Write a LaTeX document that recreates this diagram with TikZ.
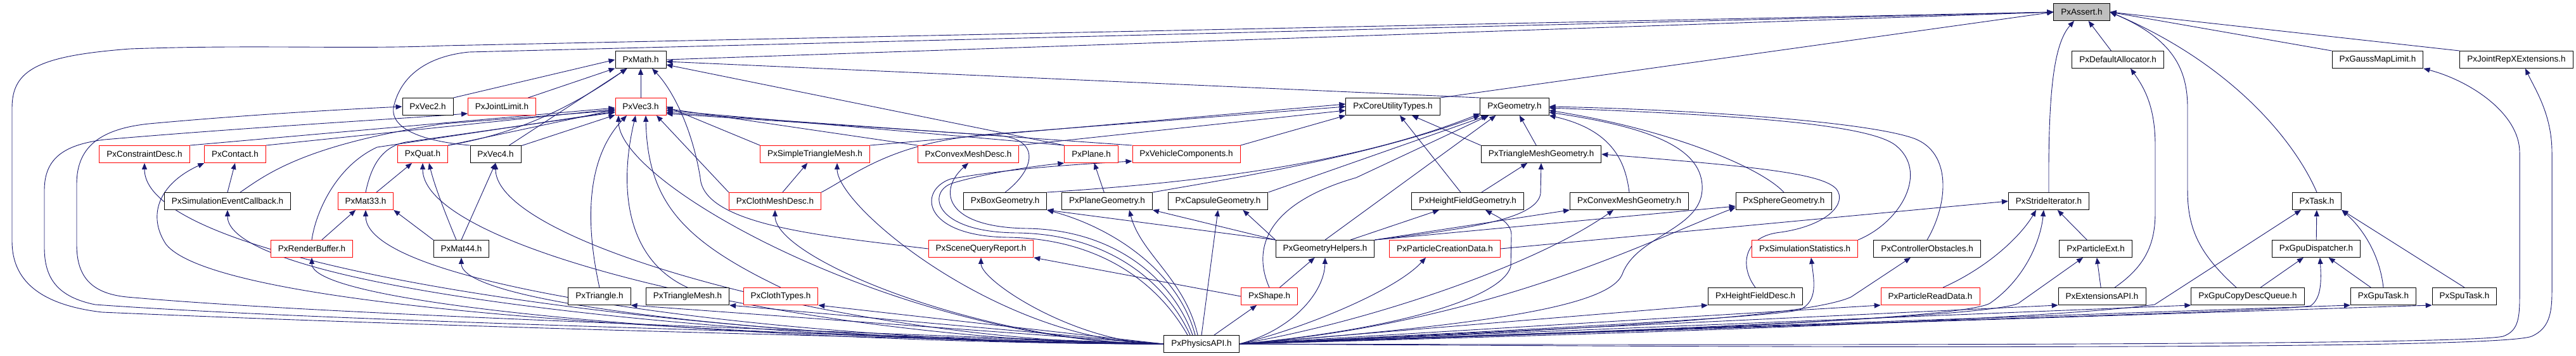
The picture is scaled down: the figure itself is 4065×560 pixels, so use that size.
\documentclass[tikz,border=0pt]{standalone}
\usepackage{fontspec}
\newfontfamily\dotfont{Liberation Sans}
\usetikzlibrary{arrows.meta,backgrounds}
\definecolor{edgeblue}{HTML}{191970}
\definecolor{redline}{HTML}{FF0000}
\definecolor{rootgray}{HTML}{BFBFBF}
\tikzset{
  file/.style={draw=black, fill=white, line width=0.9pt, minimum height=27pt, inner xsep=11.5pt, inner ysep=0pt, font=\dotfont\fontsize{13.5}{16}\selectfont},
  redfile/.style={file, draw=redline},
  rootfile/.style={file, fill=rootgray},
  dep/.style={draw=edgeblue, line width=0.9pt, -{Triangle[length=10pt,width=8pt]}}}

\begin{document}
\begin{tikzpicture}[x=1pt,y=-1pt]
\useasboundingbox (0,0) rectangle (4065,560);
\node[rootfile] (assert) at (3285,19) {PxAssert.h};
\node[file] (math) at (1011,94) {PxMath.h};
\node[file] (defalloc) at (3342,94) {PxDefaultAllocator.h};
\node[file] (gaussmap) at (3752,94) {PxGaussMapLimit.h};
\node[file] (jointrepx) at (3971,94) {PxJointRepXExtensions.h};
\node[file] (vectwo) at (675,168) {PxVec2.h};
\node[redfile] (jointlimit) at (792,168) {PxJointLimit.h};
\node[redfile] (vecthree) at (1011,168) {PxVec3.h};
\node[file] (coreutil) at (2198,168) {PxCoreUtilityTypes.h};
\node[file] (geometry) at (2390,168) {PxGeometry.h};
\node[redfile] (constraint) at (228,243) {PxConstraintDesc.h};
\node[redfile] (contact) at (371,243) {PxContact.h};
\node[redfile] (quat) at (667,243) {PxQuat.h};
\node[file] (vecfour) at (782,243) {PxVec4.h};
\node[redfile] (simplemesh) at (1286,243) {PxSimpleTriangleMesh.h};
\node[redfile] (convexdesc) at (1528,243) {PxConvexMeshDesc.h};
\node[redfile] (plane) at (1722,243) {PxPlane.h};
\node[redfile] (vehicle) at (1872,243) {PxVehicleComponents.h};
\node[file] (trimeshgeom) at (2432,243) {PxTriangleMeshGeometry.h};
\node[file] (simcallback) at (359,317) {PxSimulationEventCallback.h};
\node[redfile] (matthree) at (577,317) {PxMat33.h};
\node[redfile] (clothdesc) at (1223,317) {PxClothMeshDesc.h};
\node[file] (boxgeom) at (1586,317) {PxBoxGeometry.h};
\node[file] (planegeom) at (1747,317) {PxPlaneGeometry.h};
\node[file] (capsulegeom) at (1922,317) {PxCapsuleGeometry.h};
\node[file] (hfgeom) at (2316,317) {PxHeightFieldGeometry.h};
\node[file] (convexgeom) at (2571,317) {PxConvexMeshGeometry.h};
\node[file] (spheregeom) at (2815,317) {PxSphereGeometry.h};
\node[file] (strideiter) at (3233,317) {PxStrideIterator.h};
\node[file] (task) at (3656,317) {PxTask.h};
\node[redfile] (renderbuf) at (492,392) {PxRenderBuffer.h};
\node[file] (matfour) at (728,392) {PxMat44.h};
\node[redfile] (sqreport) at (1548,392) {PxSceneQueryReport.h};
\node[file] (geomhelpers) at (2091,392) {PxGeometryHelpers.h};
\node[redfile] (partcreate) at (2280,392) {PxParticleCreationData.h};
\node[redfile] (simstats) at (2848,392) {PxSimulationStatistics.h};
\node[file] (ctrlobst) at (3041,392) {PxControllerObstacles.h};
\node[file] (partext) at (3307,392) {PxParticleExt.h};
\node[file] (gpudisp) at (3655,392) {PxGpuDispatcher.h};
\node[file] (triangle) at (946,467) {PxTriangle.h};
\node[file] (trimesh) at (1085,467) {PxTriangleMesh.h};
\node[redfile] (clothtypes) at (1232,467) {PxClothTypes.h};
\node[redfile] (shape) at (2003,467) {PxShape.h};
\node[file] (hfdesc) at (2770,467) {PxHeightFieldDesc.h};
\node[redfile] (partread) at (3046,467) {PxParticleReadData.h};
\node[file] (extapi) at (3317,467) {PxExtensionsAPI.h};
\node[file] (gpucopy) at (3547,467) {PxGpuCopyDescQueue.h};
\node[file] (gputask) at (3761,467) {PxGpuTask.h};
\node[file] (sputask) at (3889,467) {PxSpuTask.h};
\node[file] (api) at (1896,542) {PxPhysicsAPI.h};

\begin{pgfonlayer}{background}
\draw[dep] (math.east) -- (assert.west); \draw[dep] (coreutil.north east) -- (assert.west); \draw[dep] (defalloc) -- (assert);
\draw[dep] (gaussmap.north west) -- (assert.east); \draw[dep] (jointrepx.north west) -- (assert.east);
\draw[dep] (strideiter.north) .. controls (3232,150) and (3240,70) .. ([xshift=-12pt]assert.south);
\draw[dep] (task.north) .. controls (3620,220) and (3520,100) .. (assert.east);
\draw[dep] ([xshift=-18pt]gpucopy.north) .. controls (3470,400) and (3452,360) .. (3452,300) -- (3452,170) .. controls (3452,110) and (3430,62) .. (assert.east);
\draw[dep] (vecfour.north west) .. controls (660,222) and (612,200) .. (622,165) .. controls (635,115) and (680,88) .. (740,82) -- (assert.west);
\draw[dep] (api.west) .. controls (1300,530) and (700,515) .. (161,492) .. controls (60,480) and (19,440) .. (19,380) -- (19,170) .. controls (19,110) and (60,88) .. (205,77) .. controls (400,70) and (560,78) .. (700,72) -- (assert.west);

\draw[dep] (vectwo.north east) -- (math.west); \draw[dep] (jointlimit) -- (math); \draw[dep] (vecthree) -- (math); \draw[dep] (vecfour) -- (math);
\draw[dep] (quat.north east) .. controls (790,215) and (880,185) .. ([xshift=-22pt]math.south);
\draw[dep] (geometry.north west) -- ([yshift=-3pt]math.east); \draw[dep] (plane.north west) -- ([yshift=-8pt]math.east);
\draw[dep] (sqreport.west) .. controls (1300,372) and (1110,355) .. (1105,280) .. controls (1092,200) and (1060,140) .. ([xshift=18pt]math.south);

\draw[dep] (vecfour) -- (vecthree); \draw[dep] (quat.north east) -- ([yshift=-5pt]vecthree.west);
\draw[dep] (constraint.north east) -- ([yshift=-2pt]vecthree.west); \draw[dep] (contact.north east) -- ([yshift=-4pt]vecthree.west);
\draw[dep] (matthree.north) .. controls (585,265) and (600,232) .. (640,224) -- ([yshift=-9pt]vecthree.west);
\draw[dep] ([xshift=20pt]simcallback.north) .. controls (420,275) and (480,228) .. (700,195) -- ([yshift=-6pt]vecthree.west);
\draw[dep] (renderbuf.north) .. controls (498,335) and (530,262) .. (595,232) -- ([yshift=-8pt]vecthree.west);
\draw[dep] (triangle.north) .. controls (930,380) and (915,260) .. ([xshift=-22pt]vecthree.south);
\draw[dep] (trimesh.north) .. controls (990,410) and (975,300) .. ([xshift=-8pt]vecthree.south);
\draw[dep] (clothtypes.north) .. controls (1080,380) and (1022,320) .. ([xshift=8pt]vecthree.south);
\draw[dep] (clothdesc.north west) -- ([xshift=25pt]vecthree.south);
\draw[dep] (simplemesh.north west) -- (vecthree.east); \draw[dep] (convexdesc.north west) -- ([yshift=-3pt]vecthree.east);
\draw[dep] (plane.north west) -- ([yshift=-6pt]vecthree.east); \draw[dep] (vehicle.north west) -- ([yshift=-9pt]vecthree.east);
\draw[dep] (boxgeom.north) .. controls (1630,270) and (1645,222) .. (1580,214) -- ([yshift=-11pt]vecthree.east);

\draw[dep] (simplemesh.north east) -- ([yshift=4pt]coreutil.west);
\draw[dep] (clothdesc.north east) .. controls (1350,275) and (1410,220) .. (1583,210) -- (coreutil.west);
\draw[dep] (convexdesc.north east) -- ([yshift=-6pt]coreutil.west); \draw[dep] (vehicle.north east) -- (coreutil.south west);
\draw[dep] (trimeshgeom.north west) -- ([xshift=30pt]coreutil.south); \draw[dep] (hfgeom) -- (coreutil);

\draw[dep] (boxgeom.north east) .. controls (1850,290) and (2120,265) .. ([yshift=3pt]geometry.south west);
\draw[dep] (planegeom.north east) .. controls (1920,285) and (2150,250) .. (geometry.south west);
\draw[dep] (capsulegeom.north east) -- ([xshift=12pt]geometry.south west);
\draw[dep] (trimeshgeom) -- (geometry);
\draw[dep] (convexgeom.north) .. controls (2565,255) and (2545,205) .. (geometry.south east);
\draw[dep] (spheregeom.north) .. controls (2780,265) and (2640,205) .. ([yshift=-6pt]geometry.east);
\draw[dep] (simstats.north east) .. controls (3000,350) and (3045,270) .. (2990,228) .. controls (2940,192) and (2700,180) .. ([yshift=-2pt]geometry.east);
\draw[dep] (ctrlobst.north) .. controls (3075,320) and (3080,240) .. (3020,218) .. controls (2940,190) and (2650,172) .. (geometry.east);
\draw[dep] (shape.north) .. controls (1975,390) and (2000,320) .. (2140,280) -- ([xshift=14pt]geometry.south west);
\draw[dep] (geomhelpers.north) -- ([xshift=25pt]geometry.south west);
\draw[dep] (api.east) .. controls (2350,512) and (2540,482) .. (2560,432) .. controls (2582,372) and (2682,362) .. (2686,300) .. controls (2690,232) and (2600,200) .. ([yshift=-9pt]geometry.east);

\draw[dep] (hfgeom) -- (trimeshgeom);
\draw[dep] (geomhelpers.north east) .. controls (2300,362) and (2425,348) .. (2431,305) -- (trimeshgeom.south);
\draw[dep] (hfdesc.north) .. controls (2745,420) and (2750,372) .. (2810,366) .. controls (2885,355) and (2915,320) .. (2898,298) .. controls (2875,272) and (2760,262) .. (trimeshgeom.east);

\draw[dep] (planegeom) -- (plane); \draw[dep] (clothdesc) -- (simplemesh); \draw[dep] (simcallback.north) -- (contact.south);
\draw[dep] (matthree) -- (quat); \draw[dep] ([xshift=-8pt]matfour.north) .. controls (700,330) and (685,290) .. ([xshift=10pt]quat.south);
\draw[dep] (renderbuf) -- (matthree); \draw[dep] (matfour.north west) -- (matthree.south east); \draw[dep] (matfour.north) -- (vecfour.south);

\draw[dep] (shape.west) -- (sqreport.south east); \draw[dep] (shape) -- (geomhelpers);
\draw[dep] (geomhelpers.north west) -- (boxgeom.south east); \draw[dep] (geomhelpers.north west) -- (planegeom.south east);
\draw[dep] (geomhelpers.north west) -- ([xshift=-40pt]capsulegeom.south east);
\draw[dep] ([xshift=40pt]geomhelpers.north) -- ([xshift=-45pt]hfgeom.south);
\draw[dep] (geomhelpers.north east) -- (convexgeom.south west); \draw[dep] (geomhelpers.north east) -- ([yshift=6pt]spheregeom.south west);

\draw[dep] (partcreate.east) -- (strideiter.west); \draw[dep] (partext) -- (strideiter); \draw[dep] (extapi) -- (partext);
\draw[dep] ([xshift=20pt]partread.north) .. controls (3140,420) and (3190,370) .. ([xshift=-20pt]strideiter.south);
\draw[dep] ([xshift=20pt]extapi.north) .. controls (3385,420) and (3401,385) .. (3401,335) -- (3401,230) .. controls (3401,170) and (3385,140) .. ([xshift=20pt]defalloc.south);
\draw[dep] (gpudisp) -- (task); \draw[dep] (gpucopy) -- (gpudisp); \draw[dep] (gputask) -- (gpudisp);
\draw[dep] (gputask.north) .. controls (3755,400) and (3728,360) .. (task.south east); \draw[dep] (sputask.north) -- (task.south east);

\draw[dep] (api.west) .. controls (1436,542) and (976,294) .. ([xshift=-35pt]vecthree.south);
\draw[dep] (api.west) .. controls (1367,542) and (782,387) .. (vecfour.south);
\draw[dep] (api.west) .. controls (1319,542) and (667,400) .. (quat.south);
\draw[dep] (api.west) .. controls (1287,542) and (577,458) .. (matthree.south);
\draw[dep] (api.west) .. controls (1357,542) and (728,487) .. (matfour.south);
\draw[dep] (api.west) .. controls (1256,542) and (492,487) .. (renderbuf.south);
\draw[dep] (api.west) .. controls (1195,542) and (359,458) .. (simcallback.south);
\draw[dep] (api.west) .. controls (1134,542) and (228,428) .. (constraint.south);
\draw[dep] (api.west) .. controls (1558,542) and (1223,409) .. (clothdesc.south);
\draw[dep] (api.west) .. controls (1583,542) and (1321,327) .. ([xshift=35pt]simplemesh.south);
\draw[dep] (api.west) .. controls (1699,542) and (1548,443) .. (sqreport.south);
\draw[dep] (api.west) -- (triangle.south east); \draw[dep] (api.west) -- (trimesh.south east); \draw[dep] (api.west) -- (clothtypes.south east);
\draw[dep] (api.west) .. controls (900,525) and (330,470) .. (262,385) .. controls (232,340) and (250,290) .. (contact.south west);
\draw[dep] (api.west) .. controls (1200,518) and (500,495) .. (200,468) .. controls (140,462) and (121,432) .. (121,385) -- (121,290) .. controls (121,230) and (160,203) .. (235,195) .. controls (400,180) and (550,172) .. (vectwo.west);
\draw[dep] (api.west) .. controls (1200,522) and (500,505) .. (150,480) .. controls (92,468) and (70,440) .. (70,390) -- (70,300) .. controls (70,250) and (100,228) .. (165,220) .. controls (400,200) and (620,188) .. ([yshift=3pt]jointlimit.south west);

\draw[dep] (api) -- (shape); \draw[dep] (api.north) -- (capsulegeom.south);
\draw[dep] ([xshift=-6pt]api.north) .. controls (1870,440) and (1800,400) .. ([xshift=35pt]planegeom.south);
\draw[dep] ([xshift=-10pt]api.north) .. controls (1860,430) and (1760,360) .. (boxgeom.south east);
\draw[dep] ([xshift=-14pt]api.north) .. controls (1850,440) and (1760,362) .. (1620,360) .. controls (1490,358) and (1480,300) .. (convexdesc.south);
\draw[dep] ([xshift=-18pt]api.north) .. controls (1840,445) and (1750,369) .. (1605,367) .. controls (1470,366) and (1462,300) .. (1505,288) .. controls (1560,272) and (1630,262) .. (plane.south west);
\draw[dep] ([xshift=-22pt]api.north) .. controls (1830,450) and (1740,376) .. (1590,374) .. controls (1455,372) and (1448,300) .. (1500,282) .. controls (1600,264) and (1720,258) .. ([yshift=3pt]vehicle.south west);

\draw[dep] (api.east) .. controls (2200,520) and (2370,470) .. (2384,420) -- (2385,370) .. controls (2385,350) and (2360,340) .. ([xshift=28pt]hfgeom.south);
\draw[dep] (api.east) .. controls (2150,510) and (2420,420) .. ([xshift=-25pt]convexgeom.south);
\draw[dep] (api.east) .. controls (2050,520) and (2200,460) .. ([xshift=-30pt]partcreate.south);
\draw[dep] (api.east) .. controls (2040,520) and (2090,460) .. (geomhelpers.south);
\draw[dep] (api.east) .. controls (2350,510) and (2600,380) .. ([yshift=4pt]spheregeom.south west);
\draw[dep] (api.east) .. controls (2400,520) and (2800,500) .. (2840,488) .. controls (2870,475) and (2862,440) .. ([xshift=10pt]simstats.south);
\draw[dep] (api.east) .. controls (2500,520) and (2850,500) .. (2921,468) -- ([xshift=-26pt]ctrlobst.south);
\draw[dep] (api.east) .. controls (2700,520) and (3100,500) .. (3140,478) .. controls (3195,440) and (3220,380) .. ([xshift=-8pt]strideiter.south);
\draw[dep] (api.east) .. controls (2800,515) and (3150,495) .. (3185,478) -- ([xshift=-20pt]partext.south);
\draw[dep] (api.east) .. controls (2800,520) and (3250,500) .. (3400,480) -- ([xshift=-25pt]task.south);
\draw[dep] (api.east) .. controls (3000,505) and (3580,492) .. (3646,482) .. controls (3664,470) and (3663,440) .. ([xshift=6pt]gpudisp.south);
\draw[dep] (api.east) -- (hfdesc.south west); \draw[dep] (api.east) -- (partread.south west); \draw[dep] (api.east) -- (extapi.south west);
\draw[dep] (api.east) -- (gpucopy.south west); \draw[dep] (api.east) -- (gputask.south west); \draw[dep] (api.east) -- (sputask.south west);
\draw[dep] (api.east) .. controls (3100,545) and (3900,542) .. (3950,530) .. controls (3972,522) and (3976,505) .. (3976,470) -- (3976,240) .. controls (3976,180) and (3900,128) .. (gaussmap.south east);
\draw[dep] (api.east) .. controls (3200,550) and (3950,548) .. (3995,530) .. controls (4022,518) and (4027,495) .. (4027,460) -- (4027,240) .. controls (4027,180) and (4000,140) .. ([xshift=14pt]jointrepx.south);
\end{pgfonlayer}
\end{tikzpicture}
\end{document}
